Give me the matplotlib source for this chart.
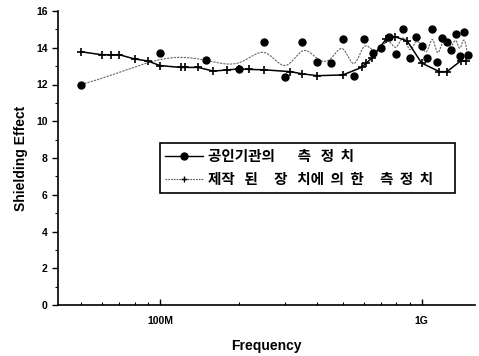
import numpy as np
import matplotlib
matplotlib.use("Agg")
import matplotlib.pyplot as plt
from matplotlib.lines import Line2D
from matplotlib.ticker import FixedLocator, NullFormatter

# measured by the public institution (MHz, dB)
f_pub = [50, 100, 150, 200, 250, 300, 350, 400, 450, 500,
         550, 600, 650, 700, 750, 800, 850, 900, 950, 1000,
         1050, 1100, 1150, 1200, 1250, 1300, 1350, 1400, 1450, 1500]
se_pub = [12.0, 13.7, 13.33, 12.86, 14.3, 12.39, 14.33, 13.22, 13.19, 14.5,
          12.46, 14.5, 13.7, 13.97, 14.6, 13.64, 15.02, 13.46, 14.57, 14.1,
          13.46, 15.0, 13.24, 14.51, 14.33, 13.88, 14.73, 13.57, 14.84, 13.6]

# measured by the built device
f_dev = [50, 60, 65, 70, 80, 90, 100, 120, 125, 140,
         160, 180, 200, 220, 250, 315, 350, 400, 500, 590,
         615, 645, 730, 790, 880, 1000, 1170, 1250, 1410, 1480]
se_dev = [13.78, 13.62, 13.62, 13.62, 13.39, 13.28, 13.03, 12.93, 12.93, 12.93,
          12.73, 12.79, 12.85, 12.82, 12.80, 12.70, 12.58, 12.48, 12.52, 12.93,
          13.17, 13.43, 14.45, 14.6, 14.38, 13.17, 12.70, 12.70, 13.28, 13.28]

labels = ["공인기관의       측   정  치",
          "제작   된     장   치에  의  한     측  정  치"]


def bspline(px, py, n=30):
    # clamped uniform cubic B-spline, data points used as control points
    px = np.r_[px[0], px[0], px, px[-1], px[-1]]
    py = np.r_[py[0], py[0], py, py[-1], py[-1]]
    t = np.linspace(0, 1, n)
    b0 = (1 - t) ** 3 / 6
    b1 = (3 * t**3 - 6 * t**2 + 4) / 6
    b2 = (-3 * t**3 + 3 * t**2 + 3 * t + 1) / 6
    b3 = t**3 / 6
    xs, ys = [], []
    for i in range(len(px) - 3):
        xs.append(b0 * px[i] + b1 * px[i+1] + b2 * px[i+2] + b3 * px[i+3])
        ys.append(b0 * py[i] + b1 * py[i+1] + b2 * py[i+2] + b3 * py[i+3])
    return np.concatenate(xs), np.concatenate(ys)


plt.rcParams['font.family'] = ['Liberation Sans', 'Noto Sans CJK KR', 'DejaVu Sans']

fig = plt.figure(figsize=(4.79, 3.56), dpi=100)
ax = fig.add_axes([58/479, 1 - 305/356, 417/479, 294/356])

fp = np.array(f_pub) * 1e6
fd = np.array(f_dev) * 1e6

sx, sy = bspline(fp, np.array(se_pub))
ax.plot(sx, sy, color='#666666', lw=0.8, ls=(0, (2, 1)))
ax.plot(fp, se_pub, 'o', color='black', ms=5)
ax.plot(fd, se_dev, '-', color='black', lw=1.1, marker='+', ms=6, mew=1.2)

ax.set_xscale('log')
ax.set_xlim(40.8e6, 1.6e9)
ax.set_ylim(0, 16)

ax.xaxis.set_major_locator(FixedLocator([1e8, 1e9]))
ax.set_xticklabels(['100M', '1G'])
minors = [m * 1e7 for m in range(5, 10)] + [m * 1e8 for m in range(2, 10)]
ax.xaxis.set_minor_locator(FixedLocator(minors))
ax.xaxis.set_minor_formatter(NullFormatter())
ax.set_yticks(range(0, 17, 2))
ax.set_yticks(range(0, 17), minor=True)

ax.tick_params(axis='x', which='major', direction='in', length=4, width=1,
               labelsize=7.5, pad=8)
ax.tick_params(axis='x', which='minor', direction='in', length=2.5, width=0.8)
ax.tick_params(axis='y', which='major', direction='out', length=4, width=1,
               labelsize=7.5)
ax.tick_params(axis='y', which='minor', direction='out', length=2, width=0.8)
for lab in ax.get_xticklabels() + ax.get_yticklabels():
    lab.set_fontweight('bold')

ax.spines['top'].set_visible(False)
ax.spines['right'].set_visible(False)
ax.spines['left'].set_linewidth(1.2)
ax.spines['bottom'].set_linewidth(1.2)

ax.set_xlabel('Frequency', fontsize=10, fontweight='bold', labelpad=9)
ax.set_ylabel('Shielding Effect', fontsize=10, fontweight='bold', labelpad=6)

handles = [
    Line2D([], [], color='black', lw=1.0, marker='o', ms=5),
    Line2D([], [], color='#555555', lw=0.8, ls=(0, (1.5, 1)), marker='+',
           ms=5, mec='black'),
]
leg = ax.legend(handles, labels, loc='upper left',
                bbox_to_anchor=(0.245, 0.381, 0.707, 0.17), mode='expand',
                fancybox=False, edgecolor='black', framealpha=1,
                prop={'family': ['Noto Sans CJK KR'], 'size': 10.5, 'weight': 'bold'},
                handlelength=2.6, handletextpad=0.3, borderpad=0.35,
                labelspacing=0.5, borderaxespad=0)
leg.get_frame().set_linewidth(1.2)

fig.savefig('out.png', dpi=100)
